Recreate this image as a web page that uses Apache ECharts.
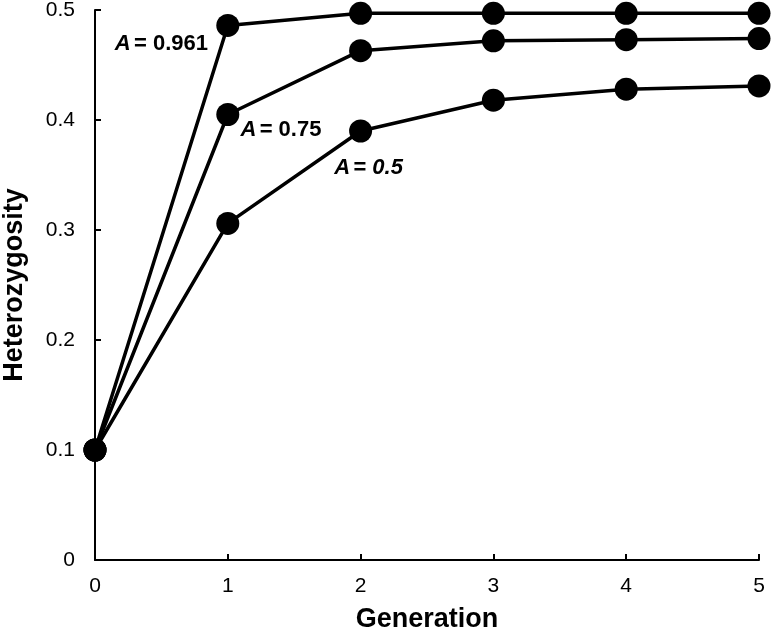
<!DOCTYPE html>
<html>
<head>
<meta charset="utf-8">
<script src="https://cdn.jsdelivr.net/npm/echarts@6/dist/echarts.min.js"></script>
<style>html,body{margin:0;padding:0;background:#fff;}#c{width:772px;height:637px;}</style>
</head>
<body>
<div id="c"></div>
<script>
const generations = [0, 1, 2, 3, 4, 5];
const hA0961 = [0.1, 0.486, 0.497, 0.497, 0.497, 0.497];
const hA075 = [0.1, 0.405, 0.463, 0.472, 0.473, 0.474];
const hA05 = [0.1, 0.306, 0.390, 0.418, 0.428, 0.431];
const yTicks = [0, 0.1, 0.2, 0.3, 0.4, 0.5];
// label anchors in data coordinates
const labelA0961 = [0.50, 0.469];
const labelA075 = [1.40, 0.391];
const labelA05 = [2.06, 0.356];

const font = '"Liberation Sans", Arial, sans-serif';
function pts(ys){ return generations.map((g,i)=>[g, ys[i]]); }
function lbl(coord, num, italicNum){
  return {
    coord: coord, symbol: 'circle', symbolSize: 1,
    itemStyle: {color: 'rgba(0,0,0,0)'},
    label: {
      show: true, position: 'inside',
      formatter: '{a|A} {b|= ' + (italicNum ? '}{c|' + num + '}' : num + '}'),
      rich: {
        a: {fontStyle: 'italic', fontWeight: 'bold', fontSize: 22, fontFamily: font, color: '#000'},
        b: {fontWeight: 'bold', fontSize: 22, fontFamily: font, color: '#000'},
        c: {fontStyle: 'italic', fontWeight: 'bold', fontSize: 22, fontFamily: font, color: '#000'}
      }
    }
  };
}
function series(name, ys, label){
  return {
    name: name, type: 'line', data: pts(ys),
    symbol: 'circle', symbolSize: 23,
    lineStyle: {color: '#000', width: 3.5},
    itemStyle: {color: '#000'},
    animation: false,
    markPoint: {animation: false, data: [label]}
  };
}
const chart = echarts.init(document.getElementById('c'), null, {renderer: 'canvas'});
chart.setOption({
  backgroundColor: '#fff',
  animation: false,
  grid: {left: 95, right: 13, top: 10, bottom: 77, containLabel: false, outerBoundsMode: 'none'},
  xAxis: {
    type: 'value', min: 0, max: 5, interval: 1,
    name: 'Generation', nameLocation: 'middle', nameGap: 46,
    nameTextStyle: {fontFamily: font, fontWeight: 'bold', fontSize: 27, color: '#000'},
    axisLine: {lineStyle: {color: '#000', width: 2}},
    axisTick: {inside: true, length: 6, lineStyle: {color: '#000', width: 2}},
    axisLabel: {fontFamily: font, fontSize: 21, color: '#000', margin: 16},
    splitLine: {show: false}
  },
  yAxis: {
    type: 'value', min: 0, max: 0.5, interval: 0.1,
    name: 'Heterozygosity', nameLocation: 'middle', nameGap: 67,
    nameTextStyle: {fontFamily: font, fontWeight: 'bold', fontSize: 27, color: '#000'},
    axisLine: {show: true, lineStyle: {color: '#000', width: 2}},
    axisTick: {show: true, inside: true, length: 6, lineStyle: {color: '#000', width: 2}},
    axisLabel: {fontFamily: font, fontSize: 21, color: '#000', margin: 20,
      formatter: v => String(yTicks.find(t => Math.abs(t - v) < 1e-9) ?? v)},
    splitLine: {show: false}
  },
  series: [
    series('A = 0.5', hA05, lbl(labelA05, '0.5', true)),
    series('A = 0.75', hA075, lbl(labelA075, '0.75', false)),
    series('A = 0.961', hA0961, lbl(labelA0961, '0.961', false))
  ]
});
</script>
</body>
</html>
